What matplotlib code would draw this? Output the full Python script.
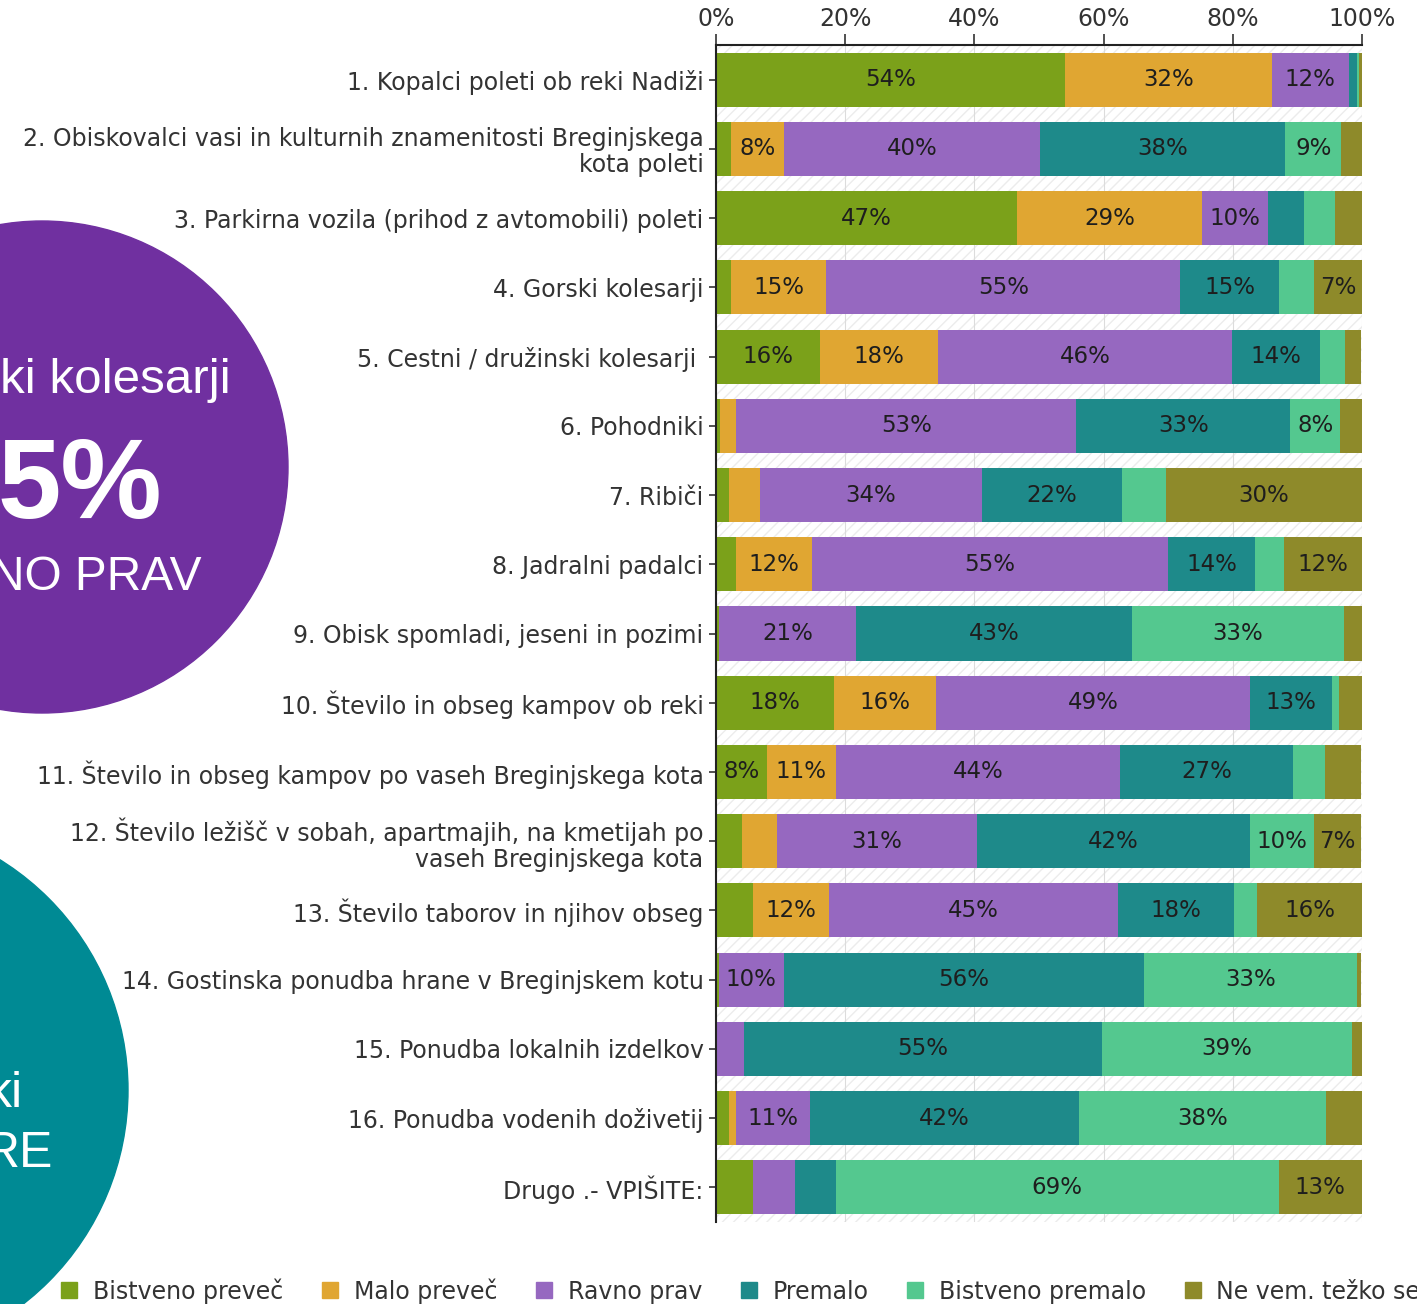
import numpy as np
import matplotlib
matplotlib.use("Agg")
import matplotlib.pyplot as plt
from matplotlib.patches import Circle
from matplotlib.lines import Line2D

categories = [
    "1. Kopalci poleti ob reki Nadiži",
    "2. Obiskovalci vasi in kulturnih znamenitosti Breginjskega\nkota poleti",
    "3. Parkirna vozila (prihod z avtomobili) poleti",
    "4. Gorski kolesarji",
    "5. Cestni / družinski kolesarji ",
    "6. Pohodniki",
    "7. Ribiči",
    "8. Jadralni padalci",
    "9. Obisk spomladi, jeseni in pozimi",
    "10. Število in obseg kampov ob reki",
    "11. Število in obseg kampov po vaseh Breginjskega kota",
    "12. Število ležišč v sobah, apartmajih, na kmetijah po\nvaseh Breginjskega kota",
    "13. Število taborov in njihov obseg",
    "14. Gostinska ponudba hrane v Breginjskem kotu",
    "15. Ponudba lokalnih izdelkov",
    "16. Ponudba vodenih doživetij",
    "Drugo .- VPIŠITE:",
]

series_names = ["Bistveno preveč", "Malo preveč", "Ravno prav", "Premalo",
                "Bistveno premalo", "Ne vem. težko se"]

bistveno_prevec  = [54.0, 2.3, 46.6, 2.3, 16.1, 0.6, 2.0, 3.1, 0.4, 18.2, 7.9, 4.0, 5.7, 0.4, 0.0, 2.0, 5.7]
malo_prevec      = [32.0, 8.3, 28.6, 14.8, 18.2, 2.5, 4.8, 11.7, 0.0, 15.8, 10.6, 5.5, 11.8, 0.0, 0.0, 1.1, 0.0]
ravno_prav       = [12.0, 39.6, 10.3, 54.8, 45.6, 52.7, 34.3, 55.1, 21.3, 48.7, 44.1, 30.9, 44.8, 10.1, 4.4, 11.4, 6.6]
premalo          = [1.2, 37.9, 5.5, 15.2, 13.6, 33.1, 21.8, 13.6, 42.7, 12.7, 26.7, 42.2, 17.9, 55.8, 55.3, 41.7, 6.2]
bistveno_premalo = [0.4, 8.7, 4.8, 5.5, 3.8, 7.7, 6.7, 4.5, 32.8, 1.1, 5.0, 9.9, 3.6, 32.9, 38.8, 38.3, 68.6]
ne_vem           = [0.4, 3.2, 4.2, 7.4, 2.6, 3.5, 30.4, 12.1, 2.8, 3.5, 5.6, 7.4, 16.3, 0.7, 1.5, 5.6, 12.9]

colors = ["#7ba11a", "#e0a632", "#9668c0", "#1e8a8a", "#54c88f", "#8e8a2a"]

plt.rcParams["font.family"] = ["DejaVu Sans"]
plt.rcParams["hatch.linewidth"] = 1.0

W, H = 1417, 1304
fig = plt.figure(figsize=(W / 100, H / 100), dpi=100)

# slide background: the two big circles with white text
bg = fig.add_axes([0, 0, 1, 1], zorder=0)
bg.set_xlim(0, W)
bg.set_ylim(H, 0)
bg.axis("off")
bg.add_patch(Circle((42, 467), 246, color="#7030a0"))
bg.add_patch(Circle((-143, 1090), 271, color="#008a94"))
circ_font = dict(family=["Liberation Sans"], color="white", va="baseline", ha="right")
bg.text(231, 393, "ki kolesarji", fontsize=35.5, **circ_font)
bg.text(162, 518, "5%", fontsize=82, fontweight="bold", **circ_font)
bg.text(201, 590, "NO PRAV", fontsize=34.5, **circ_font)
bg.text(23, 1107, "ki", fontsize=36, **circ_font)
bg.text(53, 1167, "RE", fontsize=36, **circ_font)

# main chart
ax = fig.add_axes([716 / W, 1 - 1222 / H, (1362 - 716) / W, (1222 - 45) / H], zorder=1)
ax.set_facecolor("none")

data = np.array([bistveno_prevec, malo_prevec, ravno_prav, premalo, bistveno_premalo, ne_vem])
y = np.arange(len(categories))

ax.axvspan(0, 100, facecolor="white", edgecolor="#ececec", hatch="///", linewidth=0, zorder=0)
ax.set_axisbelow(True)
ax.grid(axis="x", color="#dcdcdc", linewidth=0.8)

left = np.zeros(len(categories))
for vals, name, col in zip(data, series_names, colors):
    bars = ax.barh(y, vals, left=left, height=0.78, color=col, label=name, zorder=2)
    labels = [f"{v:.0f}%" if v >= 7 else "" for v in vals]
    ax.bar_label(bars, labels=labels, label_type="center", fontsize=16.5, color="#1e1e1e")
    left += vals

ax.set_xlim(0, 100)
ax.set_ylim(len(categories) - 0.5, -0.5)
ax.xaxis.tick_top()
ticks = list(range(0, 101, 20))
ax.set_xticks(ticks, [f"{t}%" for t in ticks])
ax.set_yticks(y, categories)
for t in ax.get_yticklabels():
    t.set_multialignment("right")
    t.set_linespacing(1.1)

ax.tick_params(axis="x", length=8, width=1.2, labelsize=17, pad=2, colors="#333333")
ax.tick_params(axis="y", length=5, width=1.2, labelsize=17, pad=4, colors="#333333")
for side in ["right", "bottom"]:
    ax.spines[side].set_visible(False)
for side in ["top", "left"]:
    ax.spines[side].set_linewidth(1.5)
    ax.spines[side].set_color("#222222")

handles = [Line2D([], [], marker="s", linestyle="none", markersize=12, color=c) for c in colors]
fig.legend(handles, series_names, loc="center left", bbox_to_anchor=(60 / W, 1 - 1291 / H),
           ncol=6, frameon=False, fontsize=17, handlelength=0.8, handletextpad=0.6,
           columnspacing=1.58, borderpad=0, borderaxespad=0, labelcolor="#333333")

fig.savefig("out.png", dpi=100)
